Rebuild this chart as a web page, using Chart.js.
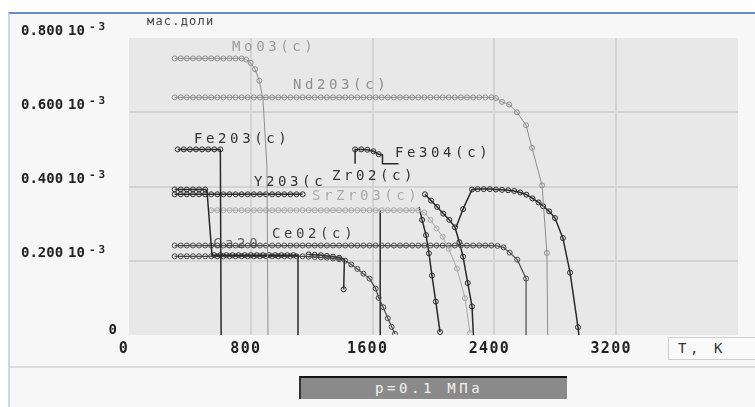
<!DOCTYPE html>
<html>
<head>
<meta charset="utf-8">
<script src="https://cdn.jsdelivr.net/npm/chart.js@4.4.1/dist/chart.umd.min.js"></script>
<style>
  body { margin: 0; background: #fff; width: 755px; height: 407px; overflow: hidden; position: relative; font-family: 'DejaVu Sans Mono', monospace; }
  #panel { position: absolute; left: 8px; top: 12px; width: 745px; height: 393px; background: #f7f7f7; border-top: 2px solid #6b8bc6; border-left: 2px solid #c9d6ee; }
  #sep { position: absolute; left: 10px; width: 745px; top: 366px; height: 2px; background: #dedede; }
  #chart { position: absolute; left: 0; top: 0; }
  #tk { position: absolute; left: 668px; top: 337px; width: 90px; height: 23px; box-sizing: border-box; border: 1px solid #cfcfcf; background: #fafafa; color: #333; font-size: 14px; letter-spacing: 3.6px; line-height: 21px; padding-left: 9px; }
  #pbox { position: absolute; left: 299px; top: 376px; width: 268px; height: 23px; box-sizing: border-box; background: #8a8a8a; border-top: 2px solid #111; border-left: 2px solid #333; color: #f2f2f2; font-size: 14px; letter-spacing: 3.6px; line-height: 21px; padding-left: 74px; white-space: nowrap; }
</style>
</head>
<body>
<div id="panel"></div>
<div id="sep"></div>
<canvas id="chart" width="755" height="407"></canvas>
<div id="tk">T, K</div>
<div id="pbox">p=0.1 МПа</div>
<script>
// temperatures (K) and mass fractions (x10^-3)
const moT = [300, 340, 380, 420, 460, 500, 540, 580, 620, 660, 700, 740, 770, 799, 828, 856, 880, 906, 913];
const moV = [0.745, 0.745, 0.745, 0.745, 0.745, 0.745, 0.745, 0.745, 0.745, 0.745, 0.745, 0.745, 0.742, 0.733, 0.716, 0.685, 0.635, 0.453, 0];

const ndT = [300, 340, 380, 420, 460, 500, 540, 580, 620, 660, 700, 740, 780, 820, 860, 900, 940, 980, 1020, 1060,
  1100, 1140, 1180, 1220, 1260, 1300, 1340, 1380, 1420, 1460, 1500, 1540, 1580, 1620, 1660, 1700, 1740, 1780, 1820, 1860,
  1900, 1940, 1980, 2020, 2060, 2100, 2140, 2180, 2220, 2260, 2300, 2340, 2380, 2410, 2450, 2497, 2548, 2608, 2647, 2713, 2745, 2750];
const ndV = [0.64, 0.64, 0.64, 0.64, 0.64, 0.64, 0.64, 0.64, 0.64, 0.64, 0.64, 0.64, 0.64, 0.64, 0.64, 0.64, 0.64, 0.64, 0.64, 0.64,
  0.64, 0.64, 0.64, 0.64, 0.64, 0.64, 0.64, 0.64, 0.64, 0.64, 0.64, 0.64, 0.64, 0.64, 0.64, 0.64, 0.64, 0.64, 0.64, 0.64,
  0.64, 0.64, 0.64, 0.64, 0.64, 0.64, 0.64, 0.64, 0.64, 0.64, 0.64, 0.64, 0.64, 0.638, 0.628, 0.621, 0.6, 0.565, 0.504, 0.403, 0.221, 0];

const fe2T = [320, 360, 400, 440, 480, 520, 560, 600, 605];
const fe2V = [0.5, 0.5, 0.5, 0.5, 0.5, 0.5, 0.5, 0.5, 0];

const fe3T = [1485, 1485, 1525, 1565, 1605, 1640, 1665, 1665, 1770];
const fe3V = [0.461, 0.5, 0.5, 0.499, 0.495, 0.487, 0.485, 0.461, 0.461];

const yT = [300, 340, 380, 420, 460, 500, 540, 580, 620, 660, 700, 740, 780, 820, 860, 900, 940, 980, 1020, 1060, 1100, 1140];
const yV = [0.379, 0.379, 0.379, 0.379, 0.379, 0.379, 0.379, 0.379, 0.379, 0.379, 0.379, 0.379, 0.379, 0.379, 0.379, 0.379, 0.379, 0.379, 0.379, 0.379, 0.379, 0.379];

const aT = [300, 340, 380, 420, 460, 500, 512, 545, 560, 600, 640, 680, 720, 760, 800, 840, 880, 920, 960, 1000, 1040, 1080, 1110, 1110];
const aV = [0.392, 0.392, 0.392, 0.392, 0.392, 0.392, 0.39, 0.215, 0.215, 0.215, 0.215, 0.215, 0.215, 0.215, 0.215, 0.215, 0.215, 0.215, 0.215, 0.215, 0.215, 0.215, 0.215, 0];

const lowT = [300, 340, 380, 420, 460, 500, 540, 580, 620, 660, 700, 740, 780, 820, 860, 900, 940, 980, 1020, 1060,
  1100, 1140, 1180, 1220, 1260, 1300, 1340, 1380, 1420, 1460, 1500, 1540, 1580, 1620, 1640, 1670, 1700, 1725, 1747];
const lowV = [0.212, 0.212, 0.212, 0.212, 0.212, 0.212, 0.212, 0.212, 0.212, 0.212, 0.212, 0.212, 0.212, 0.212, 0.212, 0.212, 0.212, 0.212, 0.212, 0.212,
  0.212, 0.212, 0.211, 0.21, 0.209, 0.208, 0.206, 0.204, 0.2, 0.19, 0.178, 0.165, 0.152, 0.125, 0.1, 0.075, 0.045, 0.022, 0.003];

const low2T = [1180, 1220, 1260, 1300, 1340, 1380, 1415, 1410];
const low2V = [0.217, 0.216, 0.215, 0.213, 0.211, 0.208, 0.205, 0.123];

const ceT = [300, 340, 380, 420, 460, 500, 540, 580, 620, 660, 700, 740, 780, 820, 860, 900, 940, 980, 1020, 1060,
  1100, 1140, 1180, 1220, 1260, 1300, 1340, 1380, 1420, 1460, 1500, 1540, 1580, 1620, 1660, 1700, 1740, 1780, 1820, 1860,
  1900, 1940, 1980, 2020, 2060, 2100, 2140, 2180, 2220, 2260, 2300, 2340, 2380, 2420, 2460, 2500, 2550, 2608, 2608];
const ceV = [0.241, 0.241, 0.241, 0.241, 0.241, 0.241, 0.241, 0.241, 0.241, 0.241, 0.241, 0.241, 0.241, 0.241, 0.241, 0.241, 0.241, 0.241, 0.241, 0.241,
  0.241, 0.241, 0.241, 0.241, 0.241, 0.241, 0.241, 0.241, 0.241, 0.241, 0.241, 0.241, 0.241, 0.241, 0.241, 0.241, 0.241, 0.241, 0.241, 0.241,
  0.241, 0.241, 0.241, 0.241, 0.241, 0.241, 0.241, 0.241, 0.241, 0.241, 0.241, 0.241, 0.241, 0.24, 0.236, 0.222, 0.203, 0.152, 0];

const srT = [540, 580, 620, 660, 700, 740, 780, 820, 860, 900, 940, 980, 1020, 1060, 1100, 1140, 1180, 1220, 1260, 1300,
  1340, 1380, 1420, 1460, 1500, 1540, 1580, 1620, 1660, 1700, 1740, 1780, 1820, 1860, 1900, 1940, 1980, 2020, 2060, 2100, 2154, 2207, 2240];
const srV = [0.336, 0.336, 0.336, 0.336, 0.336, 0.336, 0.336, 0.336, 0.336, 0.336, 0.336, 0.336, 0.336, 0.336, 0.336, 0.336, 0.336, 0.336, 0.336, 0.336,
  0.336, 0.336, 0.336, 0.336, 0.336, 0.336, 0.336, 0.336, 0.336, 0.336, 0.336, 0.336, 0.336, 0.336, 0.336, 0.33, 0.31, 0.287, 0.265, 0.232, 0.179, 0.099, 0.005];

const zrT = [1944, 1984, 2024, 2064, 2104, 2141, 2170, 2194, 2225, 2253, 2262];
const zrV = [0.379, 0.362, 0.345, 0.327, 0.31, 0.29, 0.25, 0.211, 0.14, 0.077, 0];

const hiT = [2148, 2194, 2253, 2290, 2330, 2370, 2410, 2450, 2490, 2530, 2570, 2610, 2650, 2690, 2720, 2760, 2798, 2850, 2897, 2949, 2955];
const hiV = [0.29, 0.339, 0.392, 0.393, 0.393, 0.393, 0.392, 0.391, 0.39, 0.388, 0.384, 0.378, 0.368, 0.357, 0.347, 0.333, 0.315, 0.261, 0.168, 0.021, 0];

const c7T = [1905, 1925, 1951, 1970, 1990, 2015, 2043];
const c7V = [0.345, 0.31, 0.269, 0.22, 0.16, 0.09, 0.008];

const d1T = [1650, 1650];
const d1V = [0.336, 0];

// axis ticks
const xTicks = [0, 800, 1600, 2400, 3200];
const yTicks = [0, 0.2, 0.4, 0.6, 0.8];
const yTickText = ['0', '0.200', '0.400', '0.600', '0.800'];

// curve labels: text, anchor T, anchor value
const noteText = ['Mo03(c)', 'Nd203(c)', 'Fe203(c)', 'Fe304(c)', 'Y203(c', 'Zr02(c)', 'SrZr03(c)', 'Ce02(c)', 'Ca20'];
const noteT = [677, 1077, 427, 1747, 821, 1333, 1202, 939, 552];
const noteV = [0.776, 0.672, 0.528, 0.488, 0.411, 0.427, 0.373, 0.272, 0.245];
const noteColor = ['#9c9c9c', '#8e8e8e', '#333', '#333', '#333', '#333', '#aaa', '#444', '#666'];

const GRAY = '#8e8e8e', LIGHT = '#a9a9a9', DARK = '#2a2a2a', MID = '#4a4a4a';

// name, T, V, colour, line width, indices drawn without marker
const series = [
  ['MoO3', moT, moV, GRAY, 1, [16, 17, 18]],
  ['Nd2O3', ndT, ndV, GRAY, 1, [61]],
  ['Fe2O3', fe2T, fe2V, DARK, 1.5, [8]],
  ['Fe3O4', fe3T, fe3V, DARK, 1.5, [0, 6, 7, 8]],
  ['Y2O3', yT, yV, DARK, 1.5, []],
  ['A', aT, aV, DARK, 1.5, [6, 7, 22, 23]],
  ['SrZrO3', srT, srV, LIGHT, 1, []],
  ['low', lowT, lowV, MID, 1.2, []],
  ['low2', low2T, low2V, DARK, 1.5, [6]],
  ['CeO2', ceT, ceV, MID, 1.2, [58]],
  ['ZrO2', zrT, zrV, DARK, 1.5, [10]],
  ['hi', hiT, hiV, DARK, 1.5, [0, 20]],
  ['c7', c7T, c7V, DARK, 1.5, [0]],
  ['d1', d1T, d1V, DARK, 1.5, [0, 1]]
];

const datasets = series.map(([name, ts, vs, color, w, bare]) => ({
  label: name,
  data: ts.map((t, i) => ({ x: t, y: vs[i] })),
  showLine: true,
  borderColor: color,
  borderWidth: w,
  pointBorderColor: color,
  pointBackgroundColor: 'rgba(0,0,0,0)',
  pointBorderWidth: 1,
  pointRadius: ctx => bare.includes(ctx.dataIndex) ? 0 : 2.5,
  pointHoverRadius: 0,
  tension: 0
}));

const FONT = "'DejaVu Sans Mono', monospace";

const decor = {
  id: 'decor',
  beforeDraw(chart) {
    const { ctx, chartArea: a } = chart;
    ctx.save();
    ctx.fillStyle = '#e8e8e8';
    ctx.fillRect(a.left, a.top, a.right - a.left, a.bottom - a.top);
    ctx.restore();
  },
  beforeDatasetsDraw(chart) {
    const { ctx, scales: { x, y } } = chart;
    ctx.save();
    ctx.font = '14px ' + FONT;
    ctx.letterSpacing = '3.6px';
    ctx.textBaseline = 'middle';
    ctx.textAlign = 'left';
    noteText.forEach((t, i) => {
      ctx.fillStyle = noteColor[i];
      ctx.fillText(t, x.getPixelForValue(noteT[i]), y.getPixelForValue(noteV[i]));
    });
    ctx.restore();
  },
  afterDraw(chart) {
    const { ctx, scales: { x, y } } = chart;
    ctx.save();
    ctx.fillStyle = '#222';
    ctx.textBaseline = 'middle';
    // y tick labels
    yTicks.forEach((v, i) => {
      const py = y.getPixelForValue(v) - 7;
      ctx.font = 'bold 14px ' + FONT;
      ctx.letterSpacing = '0px';
      if (v === 0) {
        ctx.textAlign = 'right';
        ctx.fillText(yTickText[i], 117, py + 2);
        return;
      }
      ctx.textAlign = 'left';
      ctx.fillText(yTickText[i], 21, py);
      ctx.fillText('10', 68, py);
      ctx.font = 'bold 11px ' + FONT;
      ctx.letterSpacing = '3px';
      ctx.fillText('-3', 89, py - 4);
    });
    // x tick labels
    ctx.font = 'bold 15px ' + FONT;
    ctx.letterSpacing = '1.3px';
    ctx.textAlign = 'center';
    xTicks.forEach(v => {
      ctx.fillText(String(v), x.getPixelForValue(v) - 5, 349);
    });
    // units label
    ctx.font = '12px ' + FONT;
    ctx.letterSpacing = '1.2px';
    ctx.textAlign = 'left';
    ctx.fillStyle = '#444';
    ctx.fillText('мас.доли', 147, 22);
    ctx.restore();
  }
};

const gridColor = max => c => (c.tick.value === 0 || Math.abs(c.tick.value - max) < 1e-9) ? 'rgba(0,0,0,0)' : '#d3d3d3';

new Chart(document.getElementById('chart'), {
  type: 'scatter',
  data: { datasets },
  options: {
    responsive: false,
    animation: false,
    events: [],
    layout: { padding: { left: 0, right: 17, top: 38, bottom: 0 } },
    plugins: { legend: { display: false }, tooltip: { enabled: false } },
    scales: {
      x: {
        type: 'linear', min: 0, max: 4000,
        ticks: { stepSize: 800, display: false },
        grid: { color: gridColor(4000), lineWidth: 2, drawTicks: false },
        border: { display: false },
        afterFit: s => { s.height = 72; }
      },
      y: {
        type: 'linear', min: 0, max: 0.8,
        ticks: { stepSize: 0.2, display: false },
        grid: { color: gridColor(0.8), lineWidth: 2, drawTicks: false },
        border: { display: false },
        afterFit: s => { s.width = 129; }
      }
    }
  },
  plugins: [decor]
});
</script>
</body>
</html>
